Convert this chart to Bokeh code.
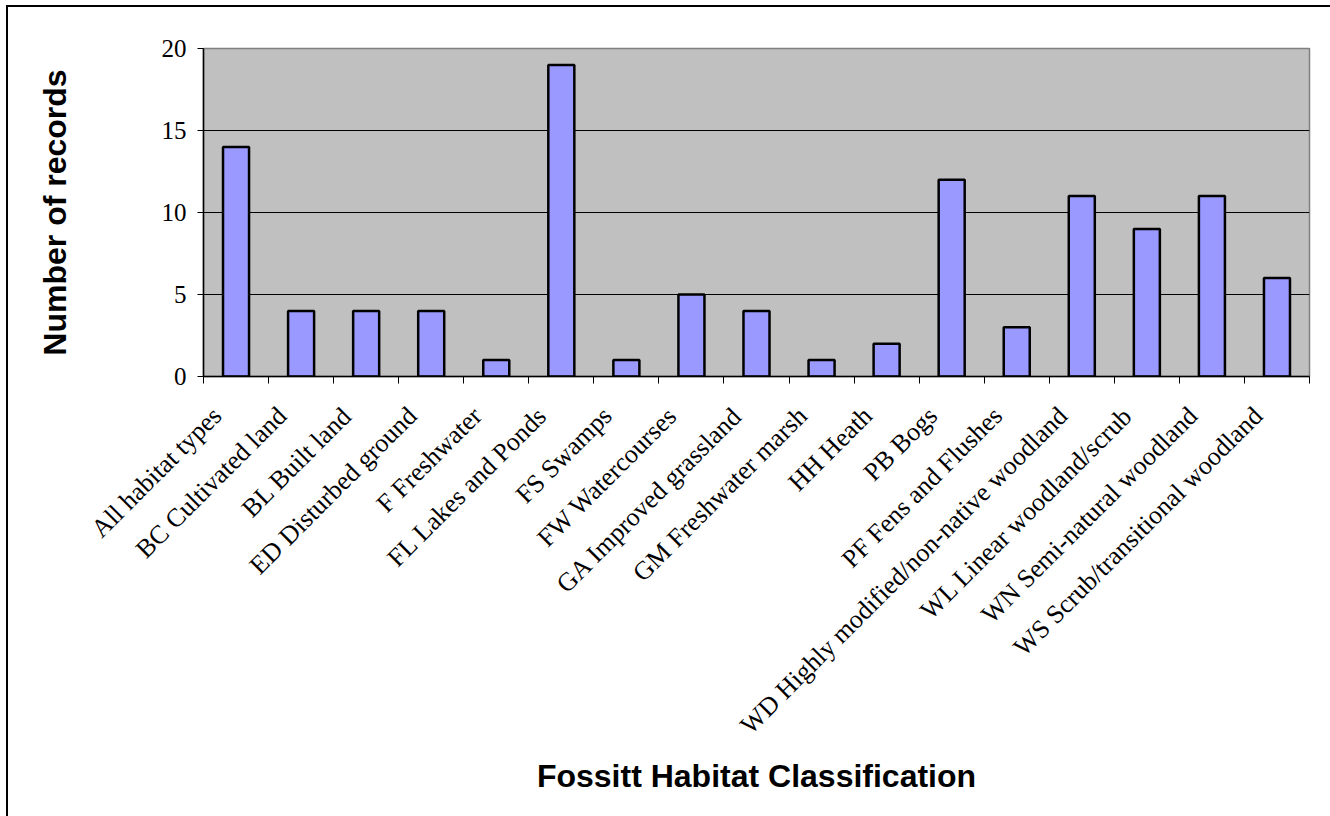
import math
from bokeh.plotting import figure
from bokeh.models import Range1d, FixedTicker, LinearAxis, Grid
from bokeh.embed import file_html
from bokeh.resources import INLINE

categories = [
    "All habitat types", "BC Cultivated land", "BL Built land", "ED Disturbed ground",
    "F Freshwater", "FL Lakes and Ponds", "FS Swamps", "FW Watercourses",
    "GA Improved grassland", "GM Freshwater marsh", "HH Heath", "PB Bogs",
    "PF Fens and Flushes", "WD Highly modified/non-native woodland",
    "WL Linear woodland/scrub", "WN Semi-natural woodland", "WS Scrub/transitional woodland",
]
records = [14, 4, 4, 4, 1, 19, 1, 5, 4, 1, 2, 12, 3, 11, 9, 11, 6]
y_ticks = [0, 5, 10, 15, 20]

UNIT = 100  # width of one category slot on the x scale
n = len(categories)
centers = [UNIT * i + UNIT // 2 for i in range(n)]
boundaries = [UNIT * i for i in range(n + 1)]
label_pos = [c - 29 for c in centers]

p = figure(width=1330, height=816, output_backend="svg", toolbar_location=None,
           x_range=Range1d(0, UNIT * n), y_range=Range1d(0, 20),
           x_axis_type=None, y_axis_type=None,
           min_border_left=203, min_border_top=48, min_border_right=21, min_border_bottom=440)
p.styles = {"box-shadow": "inset 6px 5px 0 0 #ffffff, inset 8px 7px 0 0 #000000"}

p.background_fill_color = "#C0C0C0"
p.border_fill_color = "#FFFFFF"
p.border_fill_alpha = 0
p.outline_line_color = "#808080"
p.outline_line_width = 1.5

p.vbar(x=centers, top=records, width=UNIT * 0.4, bottom=0, fill_color="#9999FF",
       line_color="#000000", line_width=2.5)

# x axis
xaxis = LinearAxis(ticker=FixedTicker(ticks=label_pos, minor_ticks=boundaries))
xaxis.major_label_overrides = {x: c for x, c in zip(label_pos, categories)}
xaxis.major_label_orientation = math.pi / 4
xaxis.major_tick_line_color = None
xaxis.major_tick_in = 0
xaxis.major_tick_out = 0
xaxis.minor_tick_in = 0
xaxis.minor_tick_out = 7
xaxis.minor_tick_line_color = "#000000"
xaxis.minor_tick_line_width = 1
xaxis.axis_line_color = "#000000"
xaxis.axis_line_width = 1.5
xaxis.major_label_text_font = "Liberation Serif"
xaxis.major_label_text_font_size = "26px"
xaxis.major_label_text_color = "#000000"
xaxis.major_label_standoff = 28
xaxis.axis_label = "Fossitt Habitat Classification"
xaxis.axis_label_text_font = "Liberation Sans"
xaxis.axis_label_text_font_style = "bold"
xaxis.axis_label_text_font_size = "32px"
xaxis.axis_label_text_color = "#000000"
xaxis.axis_label_standoff = 5
p.add_layout(xaxis, "below")

# y axis
yaxis = LinearAxis(ticker=FixedTicker(ticks=y_ticks))
yaxis.major_tick_in = 0
yaxis.major_tick_out = 6
yaxis.minor_tick_line_color = None
yaxis.major_tick_line_color = "#000000"
yaxis.axis_line_color = "#000000"
yaxis.axis_line_width = 1.5
yaxis.major_label_text_font = "Liberation Serif"
yaxis.major_label_text_font_size = "25px"
yaxis.major_label_text_color = "#000000"
yaxis.major_label_standoff = 11
yaxis.axis_label = "Number of records"
yaxis.axis_label_text_font = "Liberation Sans"
yaxis.axis_label_text_font_style = "bold"
yaxis.axis_label_text_font_size = "32px"
yaxis.axis_label_text_color = "#000000"
yaxis.axis_label_standoff = 86
p.add_layout(yaxis, "left")

p.xgrid.visible = False
p.ygrid.visible = False
grid = Grid(dimension=1, ticker=FixedTicker(ticks=[5, 10, 15]),
            grid_line_color="#000000", grid_line_width=1)
p.add_layout(grid)

open("out.html", "w").write(file_html(p, INLINE))
